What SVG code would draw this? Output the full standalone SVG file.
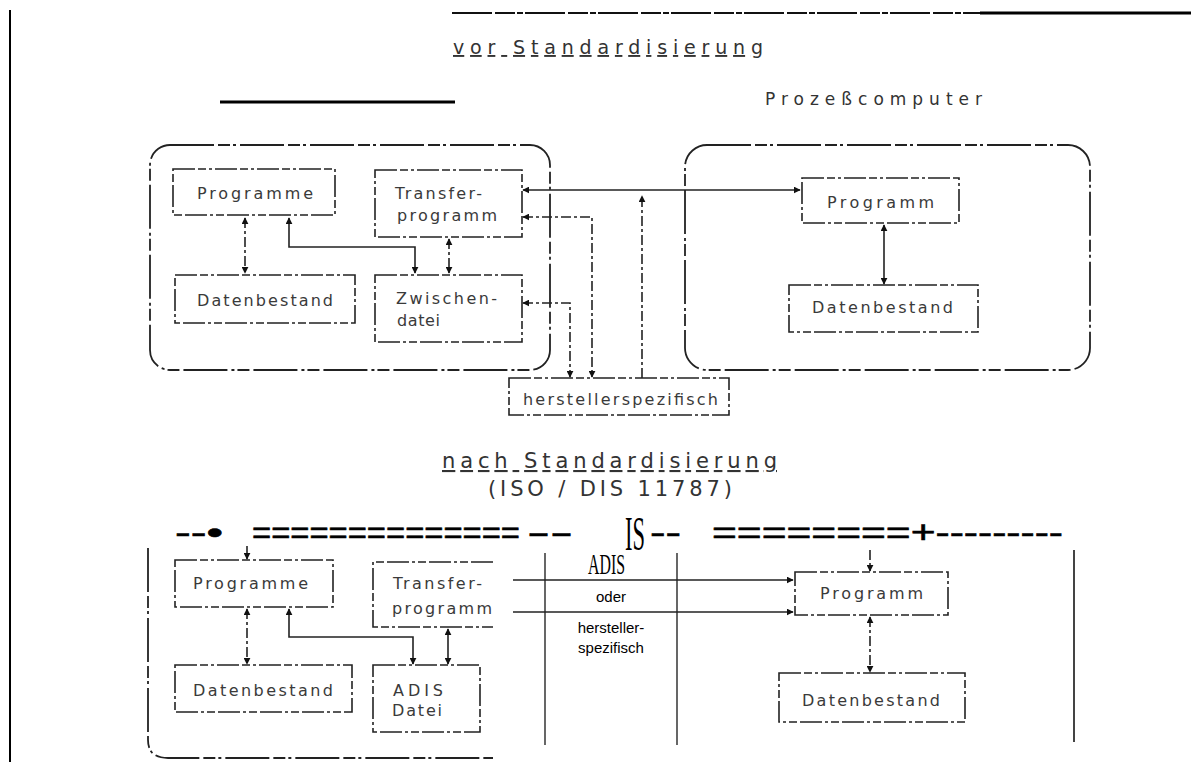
<svg xmlns="http://www.w3.org/2000/svg" width="1191" height="769" viewBox="0 0 1191 769">
<style>
.box{fill:none;stroke:#222;stroke-width:1.6;stroke-dasharray:22 3 8 3 3 3}
.cont{fill:none;stroke:#222;stroke-width:1.8;stroke-dasharray:44 4 12 3 3 4}
.conn{fill:none;stroke:#222;stroke-width:1.6}
.dc{stroke-dasharray:10 3 3 3}
.lbl{font-family:"DejaVu Sans","Liberation Sans",sans-serif;font-size:16px;fill:#3a3a3a}
.ttl{font-family:"DejaVu Sans","Liberation Sans",sans-serif;fill:#333}
.crisp{font-family:"Liberation Sans",Arial,sans-serif;font-size:15px;fill:#000}
.eq{font-family:"Liberation Sans",Arial,sans-serif;font-size:32px;fill:#000;stroke:#000;stroke-width:0.6}
.adis{font-family:"Liberation Serif","Times New Roman",serif;fill:#000}
</style>
<defs>
<marker id="ah" viewBox="0 0 10 10" refX="9" refY="5" markerWidth="7" markerHeight="7" orient="auto-start-reverse" markerUnits="userSpaceOnUse">
<path d="M0,0 L10,5 L0,10 z" fill="#111"/>
</marker>
</defs>

<g id="frame">
<line x1="10" y1="10" x2="10" y2="762" stroke="#000" stroke-width="2"/>
<line x1="452" y1="13" x2="980" y2="13" stroke="#111" stroke-width="2" stroke-dasharray="40 3 20 2 6 2"/>
<line x1="980" y1="13" x2="1191" y2="13" stroke="#000" stroke-width="3"/>
<line x1="220" y1="102" x2="455" y2="102" stroke="#000" stroke-width="3"/>
</g>

<g id="titles">
<text class="ttl" x="453" y="54" font-size="19" textLength="310" lengthAdjust="spacing" text-decoration="underline">vor Standardisierung</text>
<text class="ttl" x="765" y="105" font-size="17" textLength="217" lengthAdjust="spacing">Prozeßcomputer</text>
<text class="ttl" x="442" y="468" font-size="21" textLength="335" lengthAdjust="spacing" text-decoration="underline">nach Standardisierung</text>
<text class="ttl" x="488" y="496" font-size="21" textLength="244" lengthAdjust="spacing">(ISO / DIS 11787)</text>
</g>

<g id="container-left-top"><rect class="cont" x="150" y="145" width="400" height="225" rx="20"/></g>
<g id="container-right-top"><rect class="cont" x="685" y="145" width="405" height="225" rx="22"/></g>

<g id="programme-top">
<rect class="box" x="173" y="169" width="162" height="46"/>
<text class="lbl" x="197" y="199" textLength="116" lengthAdjust="spacing">Programme</text>
</g>
<g id="transfer-top">
<rect class="box" x="375" y="170" width="147" height="67"/>
<text class="lbl" x="395" y="199" textLength="87" lengthAdjust="spacing">Transfer-</text>
<text class="lbl" x="397" y="221" textLength="100" lengthAdjust="spacing">programm</text>
</g>
<g id="datenbestand-top">
<rect class="box" x="175" y="275" width="180" height="48"/>
<text class="lbl" x="197" y="306" textLength="136" lengthAdjust="spacing">Datenbestand</text>
</g>
<g id="zwischendatei-top">
<rect class="box" x="375" y="275" width="147" height="67"/>
<text class="lbl" x="396" y="304" textLength="101" lengthAdjust="spacing">Zwischen-</text>
<text class="lbl" x="397" y="326" textLength="43" lengthAdjust="spacing">datei</text>
</g>
<g id="programm-right-top">
<rect class="box" x="802" y="178" width="157" height="45"/>
<text class="lbl" x="827" y="208" textLength="107" lengthAdjust="spacing">Programm</text>
</g>
<g id="datenbestand-right-top">
<rect class="box" x="789" y="285" width="189" height="47"/>
<text class="lbl" x="812" y="313" textLength="141" lengthAdjust="spacing">Datenbestand</text>
</g>
<g id="herstellerspezifisch-top">
<rect class="box" x="509" y="378" width="220" height="37"/>
<text class="lbl" x="523" y="405" textLength="195" lengthAdjust="spacing">herstellerspezifisch</text>
</g>

<g id="container-left-bottom">
<path class="cont" d="M148,548 L148,740 Q148,758 168,758 L493,758"/>
</g>
<g id="programme-bottom">
<rect class="box" x="175" y="560" width="158" height="47"/>
<text class="lbl" x="193" y="589" textLength="115" lengthAdjust="spacing">Programme</text>
</g>
<g id="transfer-bottom">
<path class="box" d="M493,562 L373,562 L373,627 L493,627"/>
<text class="lbl" x="393" y="589" textLength="89" lengthAdjust="spacing">Transfer-</text>
<text class="lbl" x="392" y="614" textLength="100" lengthAdjust="spacing">programm</text>
</g>
<g id="datenbestand-bottom">
<rect class="box" x="175" y="665" width="177" height="47"/>
<text class="lbl" x="193" y="696" textLength="140" lengthAdjust="spacing">Datenbestand</text>
</g>
<g id="adisdatei-bottom">
<rect class="box" x="373" y="665" width="107" height="67"/>
<text class="lbl" x="393" y="696" textLength="50" lengthAdjust="spacing">ADIS</text>
<text class="lbl" x="392" y="716" textLength="50" lengthAdjust="spacing">Datei</text>
</g>
<g id="programm-right-bottom">
<rect class="box" x="795" y="572" width="153" height="43"/>
<text class="lbl" x="820" y="599" textLength="103" lengthAdjust="spacing">Programm</text>
</g>
<g id="datenbestand-right-bottom">
<rect class="box" x="779" y="673" width="186" height="49"/>
<text class="lbl" x="802" y="706" textLength="138" lengthAdjust="spacing">Datenbestand</text>
</g>

<g id="transfer-table">
<line x1="545" y1="553" x2="545" y2="745" stroke="#000" stroke-width="1.2"/>
<line x1="677" y1="553" x2="677" y2="745" stroke="#000" stroke-width="1.2"/>
<line x1="1074" y1="550" x2="1074" y2="742" stroke="#444" stroke-width="2"/>
<text class="crisp" x="611" y="602" text-anchor="middle">oder</text>
<text class="crisp" x="611" y="633" text-anchor="middle">hersteller-</text>
<text class="crisp" x="611" y="653" text-anchor="middle">spezifisch</text>
</g>

<g id="dash-line">
<text class="eq" x="175" y="543" textLength="48" lengthAdjust="spacingAndGlyphs">--•</text>
<text class="eq" x="252" y="543" textLength="268" lengthAdjust="spacingAndGlyphs">==============</text>
<text class="eq" x="527" y="543" textLength="46" lengthAdjust="spacingAndGlyphs">--</text>
<text class="eq" x="650" y="543" textLength="31" lengthAdjust="spacingAndGlyphs">--</text>
<text class="eq" x="712" y="543" textLength="351" lengthAdjust="spacingAndGlyphs">========+---------</text>
<text class="adis" x="588" y="574" font-size="30" textLength="37" lengthAdjust="spacingAndGlyphs">ADIS</text>
<text class="adis" x="625" y="550" font-size="48" textLength="20" lengthAdjust="spacingAndGlyphs">IS</text>
</g>

<g id="connectors">
<line class="conn dc" x1="245" y1="218" x2="245" y2="273" marker-start="url(#ah)" marker-end="url(#ah)"/>
<path class="conn" d="M289,218 L289,247 L415,247 L415,273" marker-start="url(#ah)" marker-end="url(#ah)"/>
<line class="conn dc" x1="449" y1="239" x2="449" y2="273" marker-start="url(#ah)" marker-end="url(#ah)"/>
<line class="conn" x1="523" y1="190" x2="800" y2="190" marker-start="url(#ah)" marker-end="url(#ah)"/>
<path class="conn dc" d="M523,217 L592,217 L592,377" marker-start="url(#ah)" marker-end="url(#ah)"/>
<path class="conn dc" d="M523,303 L570,303 L570,377" marker-start="url(#ah)" marker-end="url(#ah)"/>
<line class="conn dc" x1="642" y1="378" x2="642" y2="196" marker-end="url(#ah)"/>
<line class="conn" x1="884" y1="225" x2="884" y2="284" marker-start="url(#ah)" marker-end="url(#ah)"/>

<line class="conn" x1="247" y1="546" x2="247" y2="559" marker-end="url(#ah)"/>
<line class="conn dc" x1="247" y1="609" x2="247" y2="664" marker-start="url(#ah)" marker-end="url(#ah)"/>
<path class="conn" d="M289,609 L289,637 L413,637 L413,664" marker-start="url(#ah)" marker-end="url(#ah)"/>
<line class="conn" x1="448" y1="629" x2="448" y2="664" marker-start="url(#ah)" marker-end="url(#ah)"/>
<line class="conn" x1="513" y1="580" x2="793" y2="580" stroke="#000" stroke-width="2" marker-end="url(#ah)"/>
<line class="conn" x1="513" y1="612" x2="793" y2="612" stroke="#000" stroke-width="2" marker-end="url(#ah)"/>
<line class="conn dc" x1="870" y1="550" x2="870" y2="571" marker-end="url(#ah)"/>
<line class="conn dc" x1="870" y1="617" x2="870" y2="672" marker-start="url(#ah)" marker-end="url(#ah)"/>
</g>
</svg>
